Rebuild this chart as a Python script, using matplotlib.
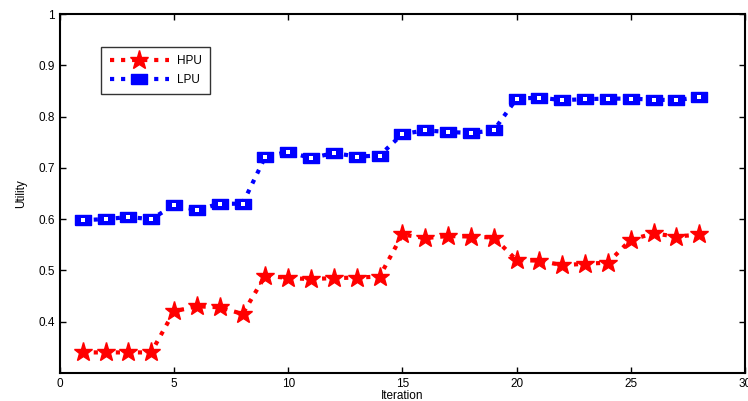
import numpy as np
import matplotlib
matplotlib.use('Agg')
import matplotlib.pyplot as plt

plt.rcParams['font.family'] = ['Liberation Sans', 'DejaVu Sans']

iteration = list(range(1, 29))
hpu = [0.340, 0.340, 0.340, 0.340, 0.420, 0.430, 0.428, 0.415, 0.490, 0.485,
       0.483, 0.485, 0.486, 0.488, 0.570, 0.563, 0.567, 0.566, 0.564, 0.520,
       0.519, 0.510, 0.513, 0.515, 0.560, 0.572, 0.566, 0.570]
lpu = [0.598, 0.600, 0.604, 0.600, 0.627, 0.618, 0.630, 0.630, 0.722, 0.731,
       0.719, 0.729, 0.722, 0.724, 0.766, 0.773, 0.770, 0.768, 0.773, 0.835,
       0.837, 0.832, 0.834, 0.835, 0.835, 0.833, 0.832, 0.838]

# wide box marker, like the squashed matlab squares
box = [(-1, -0.6), (1, -0.6), (1, 0.6), (-1, 0.6), (-1, -0.6)]

fig = plt.figure(figsize=(7.48, 4.01), dpi=100)
ax = fig.add_axes([0.080, 0.070, 0.916, 0.895])

ax.plot(iteration, hpu, color='r', linestyle=':', linewidth=3,
        marker='*', markersize=14, mfc='r', mec='r', label='HPU')
ax.plot(iteration, lpu, color='b', linestyle=':', linewidth=3,
        marker=box, markersize=12, mfc='b', mec='b', mew=1, label='LPU')
ax.plot(iteration, lpu, linestyle='none', marker='s', markersize=3,
        mfc='white', mec='white', mew=0)

ax.set_xlim(0, 30)
ax.set_ylim(0.3, 1.0)
ax.set_xticks([0, 5, 10, 15, 20, 25, 30])
ax.set_yticks([0.4, 0.5, 0.6, 0.7, 0.8, 0.9, 1.0])
ax.set_yticklabels(['0.4', '0.5', '0.6', '0.7', '0.8', '0.9', '1'])
ax.tick_params(direction='in', top=True, right=True, labelsize=8.5, length=4, width=1)
for s in ax.spines.values():
    s.set_linewidth(1.5)

ax.set_xlabel('Iteration', fontsize=8.5, labelpad=0)
ax.set_ylabel('Utility', fontsize=8.5, labelpad=8)

leg = ax.legend(loc='upper left', bbox_to_anchor=(0.052, 0.925), fontsize=8.5,
                frameon=True, fancybox=False, edgecolor='k', handlelength=5,
                handletextpad=0.7, borderpad=0.7, labelspacing=0.6)
leg.get_frame().set_linewidth(1)

plt.savefig('out.png')
